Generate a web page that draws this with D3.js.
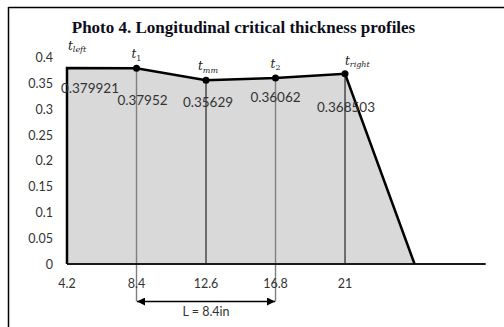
<!DOCTYPE html>
<html><head><meta charset="utf-8">
<script src="https://cdn.jsdelivr.net/npm/d3@7"></script>
<style>html,body{margin:0;padding:0;background:#fff;}svg{display:block;}</style>
</head><body>
<script>
// ---- data ----
const title = "Photo 4. Longitudinal critical thickness profiles";
const positions = [4.2, 8.4, 12.6, 16.8, 21, 25.2];
const thickness = [0.379921, 0.37952, 0.35629, 0.36062, 0.368503, 0];
const valueLabels = ["0.379921", "0.37952", "0.35629", "0.36062", "0.368503"];
const pointNames = [["t","left"],["t","1"],["t","mm"],["t","2"],["t","right"]];
const xTicks = [4.2, 8.4, 12.6, 16.8, 21];
const yTicks = [0, 0.05, 0.1, 0.15, 0.2, 0.25, 0.3, 0.35, 0.4];
const spanLabel = "L = 8.4in";
const spanFrom = 8.4, spanTo = 16.8;

// ---- layout ----
const W = 504, H = 327;
const svg = d3.select("body").append("svg").attr("width", W).attr("height", H);
const x = d3.scaleLinear().domain([4.2, 29.5]).range([67, 485.7]);
const y = d3.scaleLinear().domain([0, 0.4]).range([264, 57.6]);
const font = "Lato, 'Open Sans', sans-serif";

// frame
svg.append("line").attr("x1", 8.5).attr("x2", W).attr("y1", 7.5).attr("y2", 7.5).attr("stroke", "#000").attr("stroke-width", 1.5);
svg.append("line").attr("x1", 8.5).attr("x2", 8.5).attr("y1", 7).attr("y2", H).attr("stroke", "#000").attr("stroke-width", 1.5);

// title
svg.append("text").attr("x", 243.5).attr("y", 33).attr("text-anchor", "middle")
  .attr("font-family", "'Liberation Serif', 'Times New Roman', serif").attr("font-weight", "bold")
  .attr("font-size", 17).attr("fill", "#0d0d1a").text(title);

// area
const pts = positions.map((p, i) => [p, thickness[i]]);
const outline = [[positions[0], 0], ...pts];
svg.append("path").datum(outline)
  .attr("d", d3.area().x(d => x(d[0])).y0(y(0)).y1(d => y(d[1])))
  .attr("fill", "#d9d9d9");

// vertical lines
[1, 2, 3, 4].forEach(i => {
  const grey = (positions[i] === spanFrom || positions[i] === spanTo);
  svg.append("line")
    .attr("x1", x(positions[i])).attr("x2", x(positions[i]))
    .attr("y1", y(thickness[i])).attr("y2", grey ? 301.5 : y(0))
    .attr("stroke", grey ? "#7f7f7f" : "#000").attr("stroke-width", grey ? 1.4 : 1);
});

// x axis baseline
svg.append("line").attr("x1", x.range()[0]).attr("x2", x.range()[1]).attr("y1", y(0)).attr("y2", y(0))
  .attr("stroke", "#1a1a1a").attr("stroke-width", 2);

// outline line
svg.append("path").datum(outline)
  .attr("d", d3.line().x(d => x(d[0])).y(d => y(d[1])))
  .attr("fill", "none").attr("stroke", "#000").attr("stroke-width", 2.5).attr("stroke-linejoin", "miter");

// markers
svg.selectAll("circle.pt").data(pts.slice(1, 5)).join("circle")
  .attr("cx", d => x(d[0])).attr("cy", d => y(d[1])).attr("r", 3.5).attr("fill", "#000");

// y tick labels
svg.selectAll("text.yt").data(yTicks).join("text")
  .attr("x", 53).attr("y", d => y(d) + 4.5).attr("text-anchor", "end")
  .attr("font-family", font).attr("font-size", 12.5).attr("fill", "#333")
  .text(d => d3.format("")(d));

// x tick labels
svg.selectAll("text.xt").data(xTicks).join("text")
  .attr("x", d => x(d)).attr("y", 288).attr("text-anchor", "middle")
  .attr("font-family", font).attr("font-size", 12.5).attr("fill", "#333")
  .text(d => d);

// value labels
const valDx = [23, 6, 2, 0, 1];
const valDy = [25, 37, 27, 24, 38];
valueLabels.forEach((t, i) => {
  svg.append("text").attr("x", x(positions[i]) + valDx[i]).attr("y", y(thickness[i]) + valDy[i])
    .attr("text-anchor", "middle").attr("font-family", font).attr("font-size", 13.5).attr("fill", "#333").text(t);
});

// point name labels
const nameDx = [1, 0, 2, 0, 0];
const nameDy = [-18, -10, -10, -10, -9];
const nameAnchor = ["start", "middle", "middle", "middle", "start"];
pointNames.forEach((n, i) => {
  const t = svg.append("text").attr("x", x(positions[i]) + nameDx[i]).attr("y", y(thickness[i]) + nameDy[i])
    .attr("text-anchor", nameAnchor[i]).attr("font-family", "'DejaVu Serif', serif")
    .attr("fill", "#222");
  t.append("tspan").attr("font-size", 12).attr("font-style", "italic").text(n[0]);
  t.append("tspan").attr("font-size", 8).attr("dy", 2.5)
    .attr("font-style", /^\d+$/.test(n[1]) ? "normal" : "italic").text(n[1]);
});

// span arrow
const defs = svg.append("defs");
["s", "e"].forEach(k => {
  defs.append("marker").attr("id", "ar" + k).attr("viewBox", "0 0 10 10").attr("refX", 10).attr("refY", 5)
    .attr("markerWidth", 10).attr("markerHeight", 8).attr("markerUnits", "userSpaceOnUse")
    .attr("orient", "auto-start-reverse")
    .append("path").attr("d", "M0,0 L10,5 L0,10 Z").attr("fill", "#000");
});
svg.append("line").attr("x1", x(spanFrom) + 0.5).attr("x2", x(spanTo) - 0.5).attr("y1", 301.5).attr("y2", 301.5)
  .attr("stroke", "#000").attr("stroke-width", 1.3)
  .attr("marker-start", "url(#ars)").attr("marker-end", "url(#are)");
svg.append("text").attr("x", (x(spanFrom) + x(spanTo)) / 2).attr("y", 316).attr("text-anchor", "middle")
  .attr("font-family", font).attr("font-size", 12.5).attr("fill", "#333").text(spanLabel);
</script>
</body></html>
